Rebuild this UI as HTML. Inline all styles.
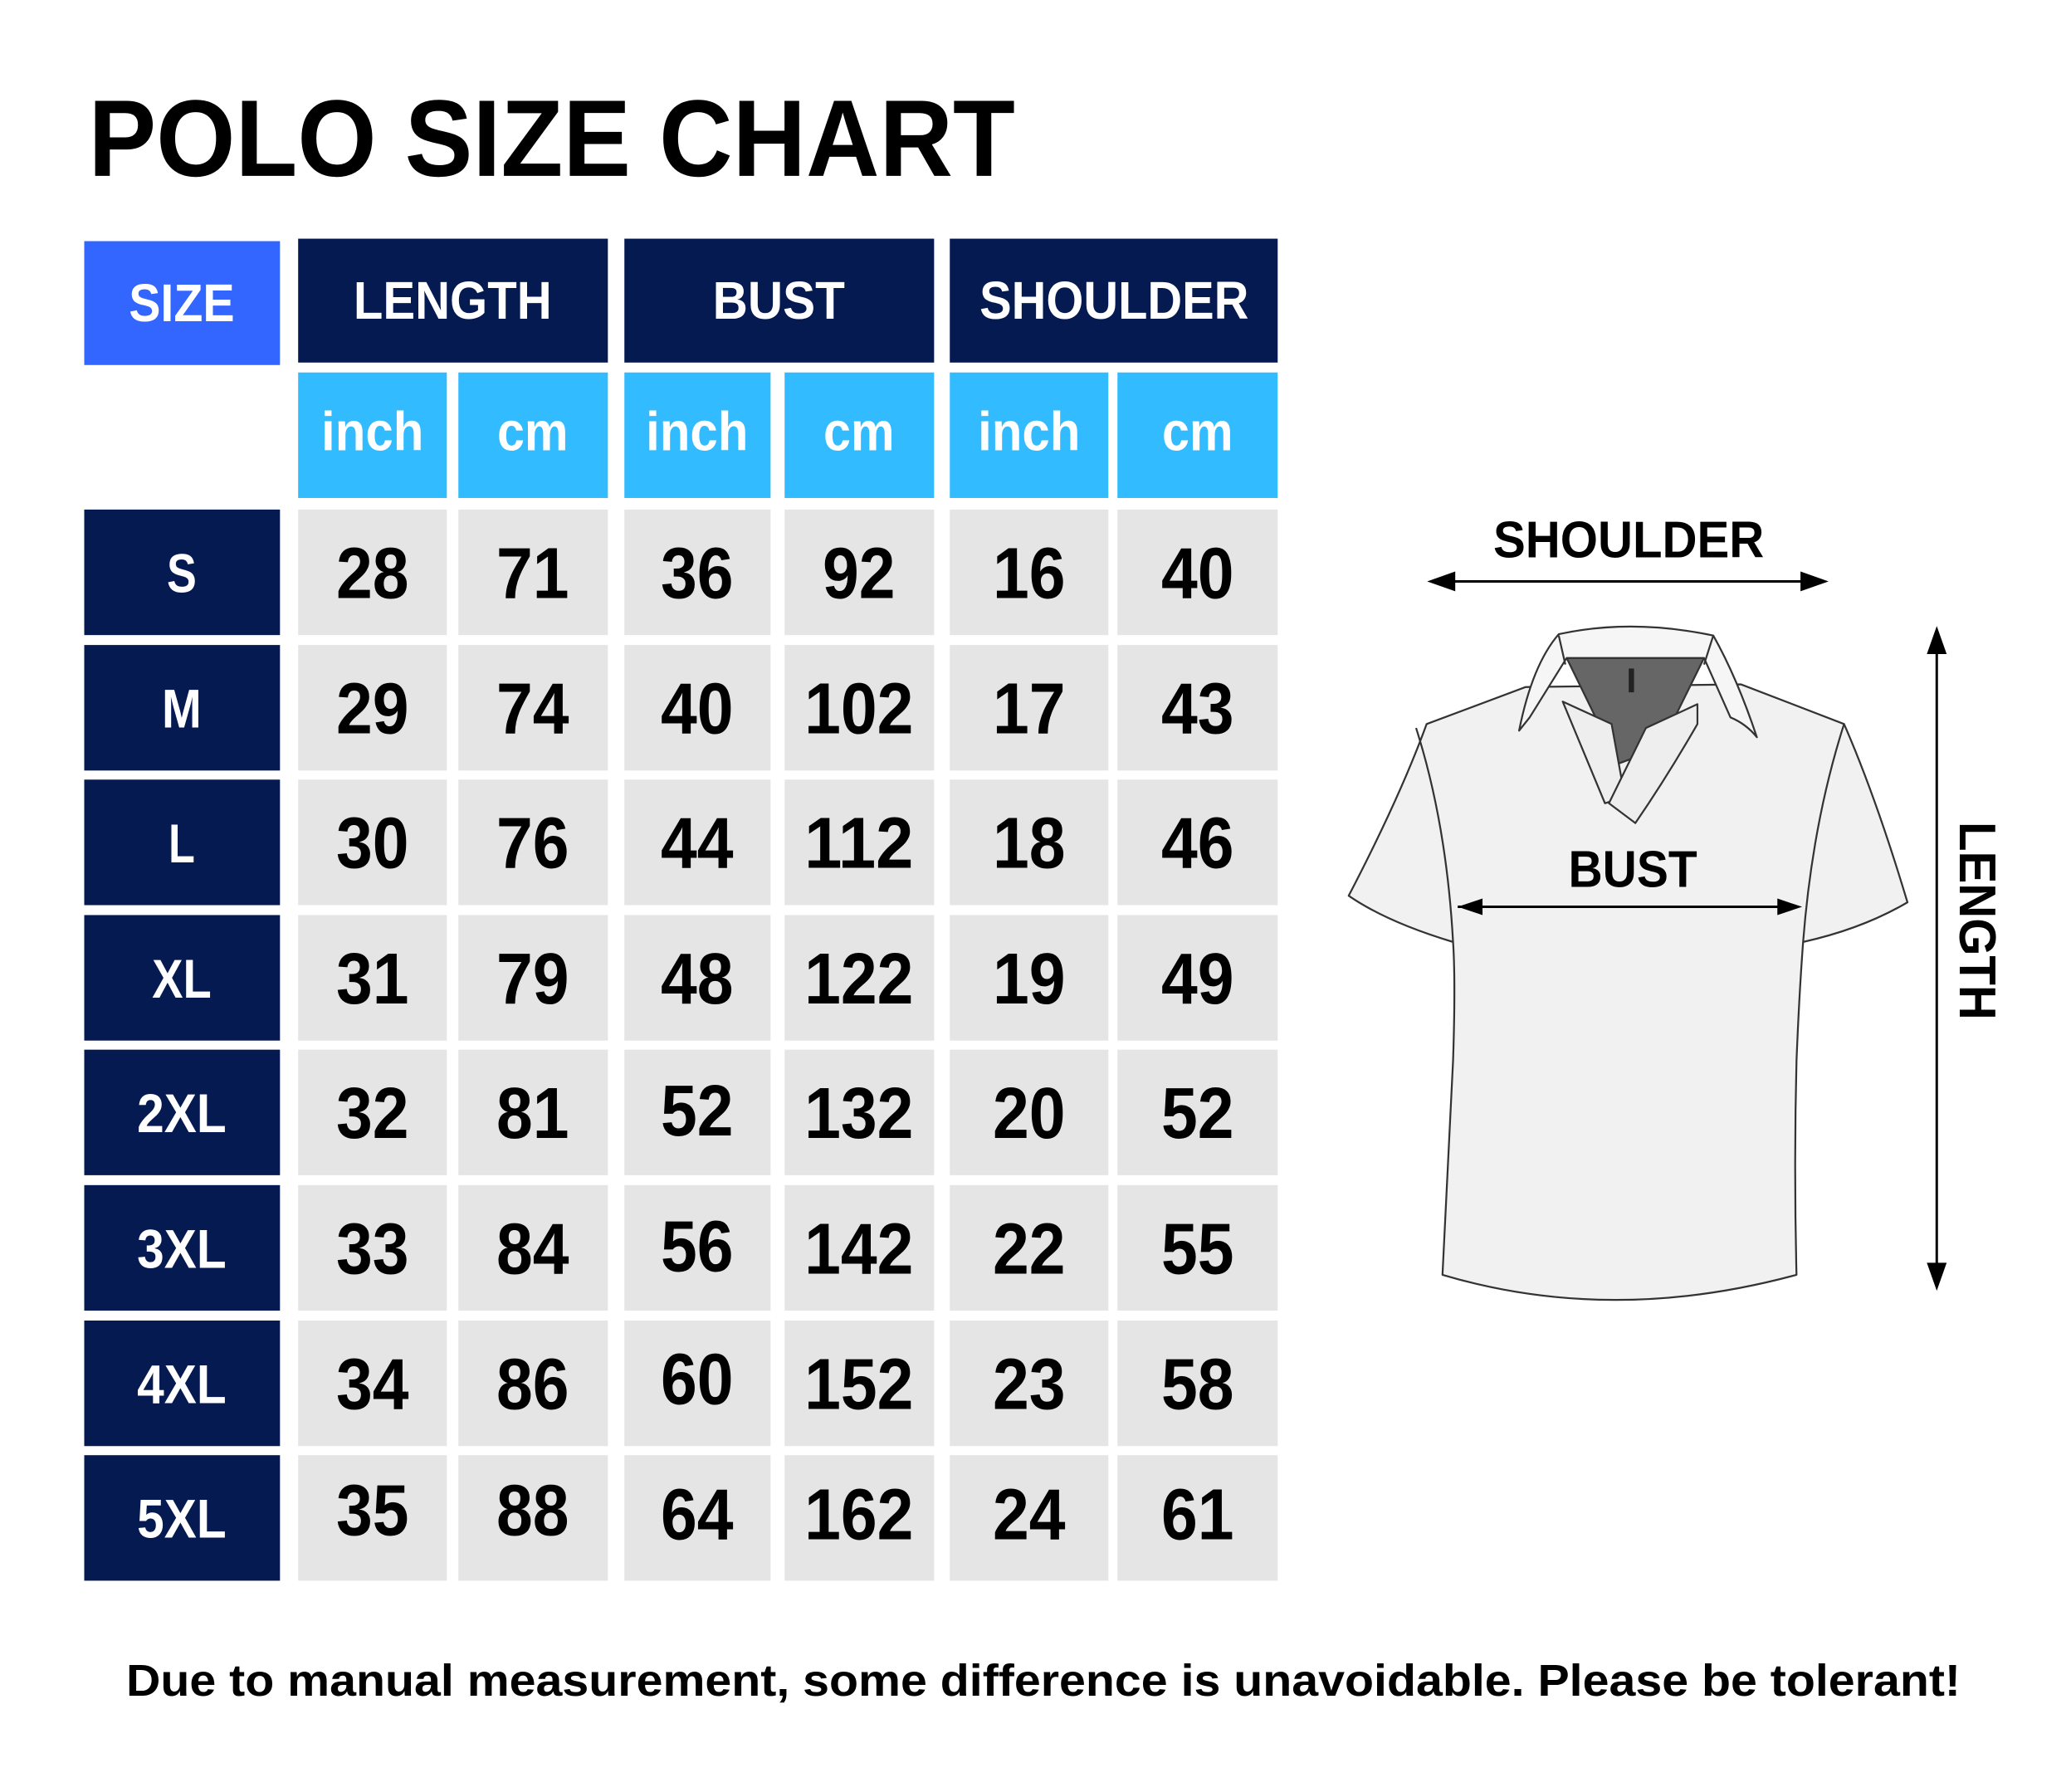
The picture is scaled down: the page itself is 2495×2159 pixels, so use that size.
<!DOCTYPE html>
<html><head><meta charset="utf-8"><style>
html,body{margin:0;padding:0;background:#fff;}
svg{display:block;}
text{font-family:"Liberation Sans",sans-serif;font-weight:bold;}
.sz{fill:#fff;font-size:66px;text-anchor:middle;}
.n{fill:#000;font-size:88px;text-anchor:middle;}
</style></head><body>
<svg width="2495" height="2159" viewBox="0 0 2495 2159" xmlns="http://www.w3.org/2000/svg">
<defs>
<g id="rowbg">
<rect x="102" y="0" width="237" height="152" fill="#061a52"/>
<rect x="361" y="0" width="180" height="152" fill="#e5e5e5"/>
<rect x="555" y="0" width="181" height="152" fill="#e5e5e5"/>
<rect x="756" y="0" width="177" height="152" fill="#e5e5e5"/>
<rect x="950" y="0" width="181" height="152" fill="#e5e5e5"/>
<rect x="1150" y="0" width="192" height="152" fill="#e5e5e5"/>
<rect x="1353" y="0" width="194" height="152" fill="#e5e5e5"/>
</g>
</defs>
<rect width="2495" height="2159" fill="#fff"/>
<g transform="scale(0.995)">
<text x="107" y="213" font-size="132" textLength="1122" lengthAdjust="spacingAndGlyphs" fill="#000">POLO SIZE CHART</text>

<rect x="102" y="292" width="237" height="150" fill="#3366ff"/>
<rect x="361" y="289" width="375" height="150" fill="#061a52"/>
<rect x="756" y="289" width="375" height="150" fill="#061a52"/>
<rect x="1150" y="289" width="397" height="150" fill="#061a52"/>
<g fill="#fff" font-size="64" text-anchor="middle">
<text x="220" y="389" textLength="128" lengthAdjust="spacingAndGlyphs">SIZE</text>
<text x="548" y="386" textLength="240" lengthAdjust="spacingAndGlyphs">LENGTH</text>
<text x="943" y="386" textLength="160" lengthAdjust="spacingAndGlyphs">BUST</text>
<text x="1349" y="386" textLength="326" lengthAdjust="spacingAndGlyphs">SHOULDER</text>
</g>

<g fill="#33bbff">
<rect x="361" y="451" width="180" height="152"/>
<rect x="555" y="451" width="181" height="152"/>
<rect x="756" y="451" width="177" height="152"/>
<rect x="950" y="451" width="181" height="152"/>
<rect x="1150" y="451" width="192" height="152"/>
<rect x="1353" y="451" width="194" height="152"/>
</g>
<g fill="#fff" font-size="66" text-anchor="middle">
<text x="451" y="545" textLength="124" lengthAdjust="spacingAndGlyphs">inch</text>
<text x="645" y="545" textLength="86" lengthAdjust="spacingAndGlyphs">cm</text>
<text x="844" y="545" textLength="124" lengthAdjust="spacingAndGlyphs">inch</text>
<text x="1040" y="545" textLength="86" lengthAdjust="spacingAndGlyphs">cm</text>
<text x="1246" y="545" textLength="124" lengthAdjust="spacingAndGlyphs">inch</text>
<text x="1450" y="545" textLength="86" lengthAdjust="spacingAndGlyphs">cm</text>
</g>

<g transform="translate(0,617)"><use href="#rowbg"/>
<text class="sz" x="220" y="100" textLength="36" lengthAdjust="spacingAndGlyphs">S</text>
<text class="n" x="451" y="107" textLength="88" lengthAdjust="spacingAndGlyphs">28</text><text class="n" x="645" y="107" textLength="88" lengthAdjust="spacingAndGlyphs">71</text><text class="n" x="844" y="107" textLength="88" lengthAdjust="spacingAndGlyphs">36</text><text class="n" x="1040" y="107" textLength="88" lengthAdjust="spacingAndGlyphs">92</text><text class="n" x="1246" y="107" textLength="88" lengthAdjust="spacingAndGlyphs">16</text><text class="n" x="1450" y="107" textLength="88" lengthAdjust="spacingAndGlyphs">40</text></g>

<g transform="translate(0,781)"><use href="#rowbg"/>
<text class="sz" x="220" y="100" textLength="48" lengthAdjust="spacingAndGlyphs">M</text>
<text class="n" x="451" y="107" textLength="88" lengthAdjust="spacingAndGlyphs">29</text><text class="n" x="645" y="107" textLength="88" lengthAdjust="spacingAndGlyphs">74</text><text class="n" x="844" y="107" textLength="88" lengthAdjust="spacingAndGlyphs">40</text><text class="n" x="1040" y="107" textLength="132" lengthAdjust="spacingAndGlyphs">102</text><text class="n" x="1246" y="107" textLength="88" lengthAdjust="spacingAndGlyphs">17</text><text class="n" x="1450" y="107" textLength="88" lengthAdjust="spacingAndGlyphs">43</text></g>

<g transform="translate(0,944)"><use href="#rowbg"/>
<text class="sz" x="220" y="100" textLength="32" lengthAdjust="spacingAndGlyphs">L</text>
<text class="n" x="451" y="107" textLength="88" lengthAdjust="spacingAndGlyphs">30</text><text class="n" x="645" y="107" textLength="88" lengthAdjust="spacingAndGlyphs">76</text><text class="n" x="844" y="107" textLength="88" lengthAdjust="spacingAndGlyphs">44</text><text class="n" x="1040" y="107" textLength="132" lengthAdjust="spacingAndGlyphs">112</text><text class="n" x="1246" y="107" textLength="88" lengthAdjust="spacingAndGlyphs">18</text><text class="n" x="1450" y="107" textLength="88" lengthAdjust="spacingAndGlyphs">46</text></g>

<g transform="translate(0,1108)"><use href="#rowbg"/>
<text class="sz" x="220" y="100" textLength="72" lengthAdjust="spacingAndGlyphs">XL</text>
<text class="n" x="451" y="107" textLength="88" lengthAdjust="spacingAndGlyphs">31</text><text class="n" x="645" y="107" textLength="88" lengthAdjust="spacingAndGlyphs">79</text><text class="n" x="844" y="107" textLength="88" lengthAdjust="spacingAndGlyphs">48</text><text class="n" x="1040" y="107" textLength="132" lengthAdjust="spacingAndGlyphs">122</text><text class="n" x="1246" y="107" textLength="88" lengthAdjust="spacingAndGlyphs">19</text><text class="n" x="1450" y="107" textLength="88" lengthAdjust="spacingAndGlyphs">49</text></g>

<g transform="translate(0,1271)"><use href="#rowbg"/>
<text class="sz" x="220" y="100" textLength="108" lengthAdjust="spacingAndGlyphs">2XL</text>
<text class="n" x="451" y="107" textLength="88" lengthAdjust="spacingAndGlyphs">32</text><text class="n" x="645" y="107" textLength="88" lengthAdjust="spacingAndGlyphs">81</text><text class="n" x="844" y="104" textLength="88" lengthAdjust="spacingAndGlyphs">52</text><text class="n" x="1040" y="107" textLength="132" lengthAdjust="spacingAndGlyphs">132</text><text class="n" x="1246" y="107" textLength="88" lengthAdjust="spacingAndGlyphs">20</text><text class="n" x="1450" y="107" textLength="88" lengthAdjust="spacingAndGlyphs">52</text></g>

<g transform="translate(0,1435)"><use href="#rowbg"/>
<text class="sz" x="220" y="100" textLength="108" lengthAdjust="spacingAndGlyphs">3XL</text>
<text class="n" x="451" y="107" textLength="88" lengthAdjust="spacingAndGlyphs">33</text><text class="n" x="645" y="107" textLength="88" lengthAdjust="spacingAndGlyphs">84</text><text class="n" x="844" y="104" textLength="88" lengthAdjust="spacingAndGlyphs">56</text><text class="n" x="1040" y="107" textLength="132" lengthAdjust="spacingAndGlyphs">142</text><text class="n" x="1246" y="107" textLength="88" lengthAdjust="spacingAndGlyphs">22</text><text class="n" x="1450" y="107" textLength="88" lengthAdjust="spacingAndGlyphs">55</text></g>

<g transform="translate(0,1599)"><use href="#rowbg"/>
<text class="sz" x="220" y="100" textLength="108" lengthAdjust="spacingAndGlyphs">4XL</text>
<text class="n" x="451" y="107" textLength="88" lengthAdjust="spacingAndGlyphs">34</text><text class="n" x="645" y="107" textLength="88" lengthAdjust="spacingAndGlyphs">86</text><text class="n" x="844" y="101" textLength="88" lengthAdjust="spacingAndGlyphs">60</text><text class="n" x="1040" y="107" textLength="132" lengthAdjust="spacingAndGlyphs">152</text><text class="n" x="1246" y="107" textLength="88" lengthAdjust="spacingAndGlyphs">23</text><text class="n" x="1450" y="107" textLength="88" lengthAdjust="spacingAndGlyphs">58</text></g>

<g transform="translate(0,1762)"><use href="#rowbg"/>
<text class="sz" x="220" y="100" textLength="108" lengthAdjust="spacingAndGlyphs">5XL</text>
<text class="n" x="451" y="97" textLength="88" lengthAdjust="spacingAndGlyphs">35</text><text class="n" x="645" y="97" textLength="88" lengthAdjust="spacingAndGlyphs">88</text><text class="n" x="844" y="102" textLength="88" lengthAdjust="spacingAndGlyphs">64</text><text class="n" x="1040" y="102" textLength="132" lengthAdjust="spacingAndGlyphs">162</text><text class="n" x="1246" y="102" textLength="88" lengthAdjust="spacingAndGlyphs">24</text><text class="n" x="1450" y="102" textLength="88" lengthAdjust="spacingAndGlyphs">61</text></g>

<!-- shirt -->
<g transform="translate(0,5) scale(1.5994)" stroke="#333" stroke-width="1.4" stroke-linejoin="round">
<path d="M1155,517 L1080,545 Q1060,600 1021,675 Q1050,695 1100,710 Q1102,740 1100,800 Q1095,900 1092,962 Q1220,1000 1360,962 Q1358,880 1360,800 Q1362,750 1365,710 Q1410,700 1444,680 Q1420,600 1396,545 L1318,515 Z" fill="#f1f1f1"/>
<path d="M1072,548 Q1095,620 1100,710" fill="none"/>
<path d="M1396,545 Q1372,620 1365,710" fill="none"/>
<path d="M1186,495 L1290,495 L1258,560 Q1240,570 1225,575 Z" fill="#666"/>
<path d="M1150,550 Q1160,500 1180,477 Q1235,465 1297,478 Q1315,510 1330,555 Q1322,545 1310,540 L1290,495 L1186,495 L1158,540 Z" fill="#f6f6f6"/>
<path d="M1185,500 L1180,478 M1290,500 L1297,478" fill="none"/>
<path d="M1183,528 L1220,545 L1230,600 L1215,605 Z" fill="#eee"/>
<path d="M1285,530 L1246,548 L1218,605 L1238,620 Q1262,585 1285,545 Z" fill="#eee"/>
<rect x="1233" y="503" width="4" height="18" fill="#222" stroke="none"/>
</g>
<g fill="none" stroke="#000" stroke-width="3">
<line x1="1745" y1="704" x2="2195" y2="704"/>
<line x1="1765" y1="1098" x2="2165" y2="1098"/>
<line x1="2345" y1="780" x2="2345" y2="1540"/>
</g>
<g fill="#000">
<polygon points="1728,704 1762,692 1762,716"/>
<polygon points="2214,704 2180,692 2180,716"/>
<polygon points="1765,1098 1795,1088 1795,1108"/>
<polygon points="2182,1098 2152,1088 2152,1108"/>
<polygon points="2345,758 2333,792 2357,792"/>
<polygon points="2345,1563 2333,1529 2357,1529"/>
</g>
<g fill="#000" font-size="62">
<text x="1808" y="675" textLength="328" lengthAdjust="spacingAndGlyphs">SHOULDER</text>
<text x="1899" y="1074" textLength="156" lengthAdjust="spacingAndGlyphs">BUST</text>
<text transform="translate(2373,995) rotate(90)" x="0" y="0" textLength="240" lengthAdjust="spacingAndGlyphs">LENGTH</text>
</g>
</g>

<text x="152" y="2043" font-size="54" fill="#000" textLength="2210" lengthAdjust="spacingAndGlyphs">Due to manual measurement, some difference is unavoidable. Please be tolerant!</text>
</svg>
</body></html>
